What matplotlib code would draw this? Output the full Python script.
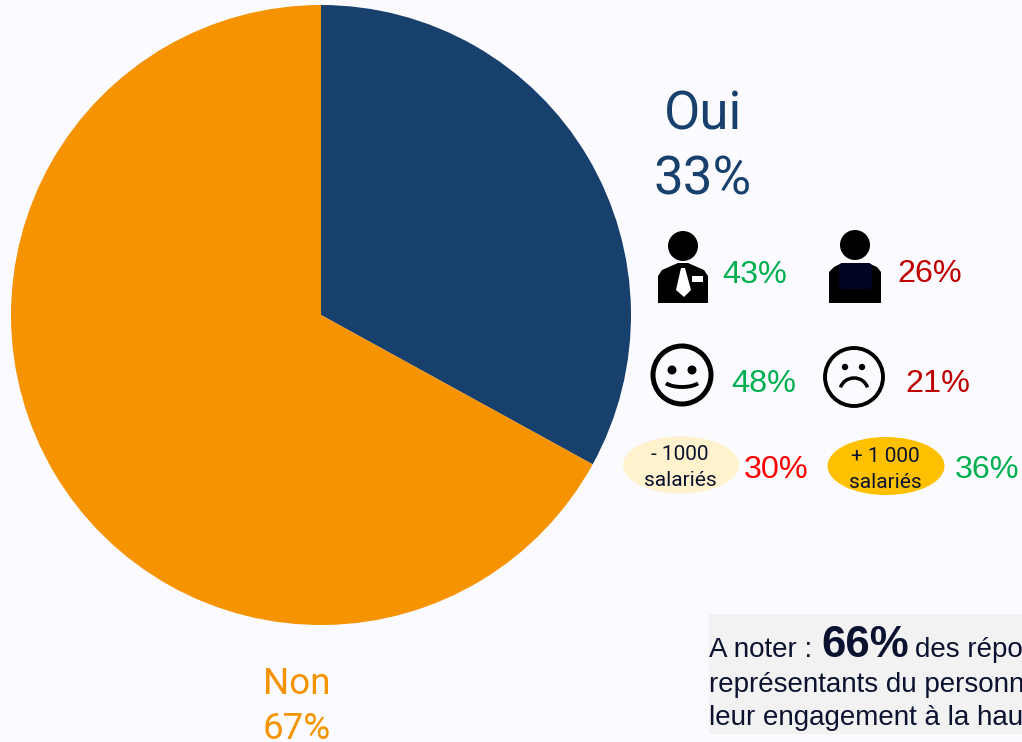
import matplotlib
matplotlib.use("Agg")
import matplotlib.pyplot as plt
from matplotlib.patches import Arc, Circle, Ellipse, FancyBboxPatch, Polygon, Rectangle

labels = ["Oui", "Non"]
shares = [33, 67]
colors = ["#18406D", "#F59300"]

stat_values = ["43%", "26%", "48%", "21%", "30%", "36%"]
stat_colors = ["#00B050", "#C00000", "#00B050", "#C00000", "#FF0000", "#00B050"]
stat_x = [722, 897, 731, 905, 744, 955]
stat_y = [272, 271, 381, 381, 467, 467]

bg = "#FBFBFF"
ink = "#0B1230"

fig = plt.figure(figsize=(10.22, 7.42), dpi=100, facecolor=bg)
ax = fig.add_axes([0, 0, 1, 1])

# y axis runs downwards here, so counterclock gives a clockwise pie on screen
ax.pie(
    shares,
    colors=colors,
    startangle=-90,
    counterclock=True,
    center=(321, 315),
    radius=310,
    frame=True,
)
ax.set_aspect("auto")
ax.set_xlim(0, 1022)
ax.set_ylim(742, 0)
ax.axis("off")

# Oui / Non labels
roboto = "Roboto"
ax.text(703, 115, labels[0], color=colors[0], fontsize=38, family=roboto, ha="center", va="center")
ax.text(703, 180, f"{shares[0]}%", color=colors[0], fontsize=38, family=roboto, ha="center", va="center")
ax.text(297, 684, labels[1], color=colors[1], fontsize=26.5, family=roboto, ha="center", va="center")
ax.text(297, 729, f"{shares[1]}%", color=colors[1], fontsize=26.5, family=roboto, ha="center", va="center")

for x, y, val, c in zip(stat_x, stat_y, stat_values, stat_colors):
    ax.text(x, y + 3, val, color=c, fontsize=23.3, family="Liberation Sans", ha="left", va="center")

# manager icon
ax.add_patch(Circle((683, 246), 15, color="black", lw=0))
ax.add_patch(Polygon([(658, 303), (658, 276), (662, 270), (678, 263), (688, 263),
                      (704, 270), (708, 276), (708, 303)], color="black", lw=0))
ax.add_patch(Polygon([(681, 268), (685, 268), (691, 290), (684, 297), (676, 290)],
                     color="white", lw=0))
ax.add_patch(Rectangle((692, 276), 11, 6, color="white", lw=0))

# employee icon
ax.add_patch(Circle((855, 245), 15, color="black", lw=0))
ax.add_patch(Polygon([(829, 303), (829, 272), (834, 267), (842, 263), (868, 263),
                      (877, 267), (881, 272), (881, 303)], color="black", lw=0))
ax.add_patch(FancyBboxPatch((839, 263), 33, 26, boxstyle="round,pad=0,rounding_size=4",
                            color="#000522", lw=0))

# happy face
ax.add_patch(Circle((682, 375), 29, fc="none", ec="black", lw=3.6))
ax.add_patch(Circle((672, 370), 4.5, color="black", lw=0))
ax.add_patch(Circle((692, 370), 4.5, color="black", lw=0))
ax.add_patch(Arc((682, 379), 38, 16, theta1=15, theta2=165, color="black", lw=2.8))

# sad face
ax.add_patch(Circle((854, 377), 29, fc="none", ec="black", lw=2.8))
ax.add_patch(Circle((845, 367), 3.2, color="black", lw=0))
ax.add_patch(Circle((862, 367), 3.2, color="black", lw=0))
ax.add_patch(Arc((854, 391), 28, 26, theta1=195, theta2=345, color="black", lw=2.5))

# company size bubbles
ax.add_patch(Ellipse((681, 465), 116, 57, color="#FFF2CC", lw=0))
ax.add_patch(Ellipse((886, 466), 117, 58, color="#FFC000", lw=0))
ax.text(680, 455, "- 1000", color=ink, fontsize=15, family=roboto, ha="center", va="center")
ax.text(680, 480, "salariés", color=ink, fontsize=15, family=roboto, ha="center", va="center")
ax.text(885, 456, "+ 1 000", color=ink, fontsize=15, family=roboto, ha="center", va="center")
ax.text(885, 482, "salariés", color=ink, fontsize=15, family=roboto, ha="center", va="center")

# note box, cut by the right edge
ax.add_patch(Rectangle((709, 614), 313, 120, color="#F2F2F2", lw=0))
note = "Liberation Sans"
ax.text(709, 657, "A noter :", color=ink, fontsize=20, family=note, va="baseline")
ax.text(821, 657, "66%", color=ink, fontsize=31.5, family=note, weight="bold", va="baseline")
ax.text(915, 657, "des répo", color=ink, fontsize=20, family=note, va="baseline")
ax.text(709, 692, "représentants du personn", color=ink, fontsize=20, family=note, va="baseline")
ax.text(709, 725, "leur engagement à la hau", color=ink, fontsize=20, family=note, va="baseline")

plt.savefig("out.png", dpi=100, facecolor=bg)
